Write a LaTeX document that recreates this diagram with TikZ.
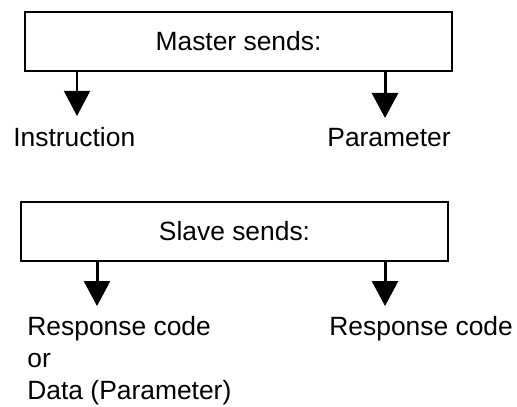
\documentclass[tikz,border=0pt]{standalone}
\usepackage{fontspec}
\setmainfont{Liberation Sans}
\usetikzlibrary{arrows.meta}

\begin{document}
\begin{tikzpicture}[x=0.5pt,y=-0.5pt]
\useasboundingbox (0,0) rectangle (517,406);

\begin{scope}[every node/.style={rectangle,draw,line width=1.4pt,inner sep=0pt,
              minimum width=213.5pt,minimum height=29.5pt,
              font=\fontsize{13.2}{16}\selectfont}]
    \node (master) at (238.5,41.5) {Master sends:};
	\node (slave) at (234.5,231.5) {Slave sends:};
\end{scope}

\begin{scope}[every node/.style={inner sep=0pt,align=left,
              font=\fontsize{13.2}{16}\selectfont}]
    \node[anchor=base west] (instruction) at (13,147) {Instruction};
	\node[anchor=base west] (parameter) at (327,147) {Parameter};
	\node[anchor=north west] (reply_data) at (27,316) {Response code\\or\\Data (Parameter)};
	\node[anchor=north west] (reply_code) at (329,316) {Response code};
\end{scope}

    \coordinate (tip_instruction) at (77,116);
    \coordinate (tip_parameter) at (385,118);
    \coordinate (tip_data) at (97,306);
    \coordinate (tip_code) at (385,306);

\begin{scope}[>={Triangle[width=13pt,length=12.5pt]},
              every edge/.style={draw=black,line width=1.5pt}]
    \path [->] (tip_instruction |- master.south) edge[line width=0.65pt] (tip_instruction);
    \path [->] (tip_parameter |- master.south) edge (tip_parameter);

    	\path [->] (tip_data |- slave.south) edge (tip_data);
    	\path [->] (tip_code |- slave.south) edge (tip_code);
\end{scope}
\end{tikzpicture}
\end{document}
